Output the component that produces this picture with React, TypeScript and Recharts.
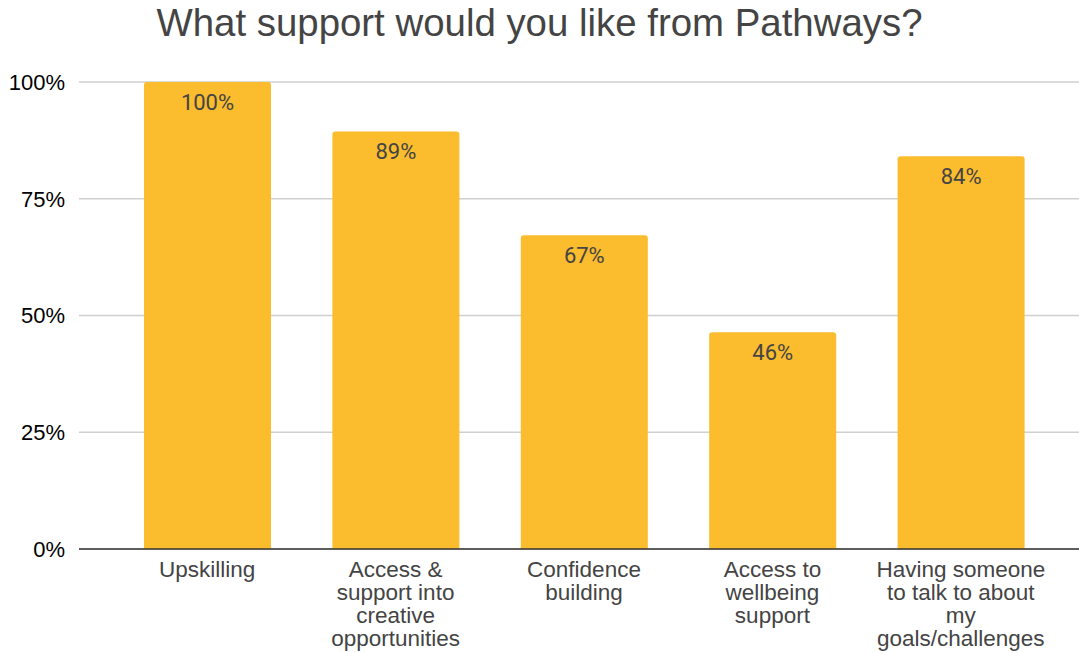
import React from "react";
import { BarChart, Bar, XAxis, YAxis, CartesianGrid, LabelList } from "recharts";

const categories = [
  "Upskilling",
  "Access & support into creative opportunities",
  "Confidence building",
  "Access to wellbeing support",
  "Having someone to talk to about my goals/challenges",
];
const categoryLines: string[][] = [
  ["Upskilling"],
  ["Access &", "support into", "creative", "opportunities"],
  ["Confidence", "building"],
  ["Access to", "wellbeing", "support"],
  ["Having someone", "to talk to about", "my", "goals/challenges"],
];
const values = [100, 89.4, 67.2, 46.4, 84.1];
const yTicks = [0, 25, 50, 75, 100];

const data = categories.map((c, i) => ({ name: c, value: values[i], idx: i }));

const CategoryTick = (props: any) => {
  const { x, y, index } = props;
  const lines = categoryLines[index] || [];
  return (
    <g transform={`translate(${x},${y})`}>
      {lines.map((l, i) => (
        <text
          key={i}
          x={0}
          y={19.5 + i * 23.3}
          textAnchor="middle"
          fill="#444"
          fontSize={22.5}
          fontFamily="Liberation Sans, Arial, sans-serif"
        >
          {l}
        </text>
      ))}
    </g>
  );
};

export default function App() {
  return (
    <div style={{ position: "absolute", left: 0, top: 0, width: 1079, height: 653, background: "#fff" }}>
      <div
        style={{
          position: "absolute",
          left: 0,
          top: 1,
          width: 1079,
          textAlign: "center",
          fontFamily: "Liberation Sans, Arial, sans-serif",
          fontSize: 38.4,
          color: "#444",
          lineHeight: "44px",
        }}
      >
        What support would you like from Pathways?
      </div>
      <BarChart
        width={1079}
        height={653}
        data={data}
        margin={{ top: 82, right: 0, bottom: 0, left: 0 }}
        barSize={127}
      >
        <CartesianGrid vertical={false} stroke="#d0d0d0" strokeWidth={1.5} />
        <XAxis
          dataKey="name"
          interval={0}
          height={104}
          tickLine={false}
          axisLine={{ stroke: "#333", strokeWidth: 1.5 }}
          tick={<CategoryTick />}
          padding={{ left: 34, right: 24 }}
        />
        <YAxis
          width={79}
          domain={[0, 100]}
          ticks={yTicks}
          tickFormatter={(v: number) => `${v}%`}
          axisLine={false}
          tickLine={false}
          tickMargin={8}
          tick={{ fill: "#000", fontSize: 22, fontFamily: "Liberation Sans, Arial, sans-serif" }}
        />
        <Bar dataKey="value" fill="#FBBC2E" radius={[3, 3, 0, 0]} isAnimationActive={false}>
          <LabelList
            dataKey="value"
            position="insideTop"
            offset={12}
            formatter={(v: any) => `${Math.round(Number(v))}%`}
            style={{ fill: "#444", fontSize: 22, fontFamily: "Roboto, sans-serif" }}
          />
        </Bar>
      </BarChart>
    </div>
  );
}
